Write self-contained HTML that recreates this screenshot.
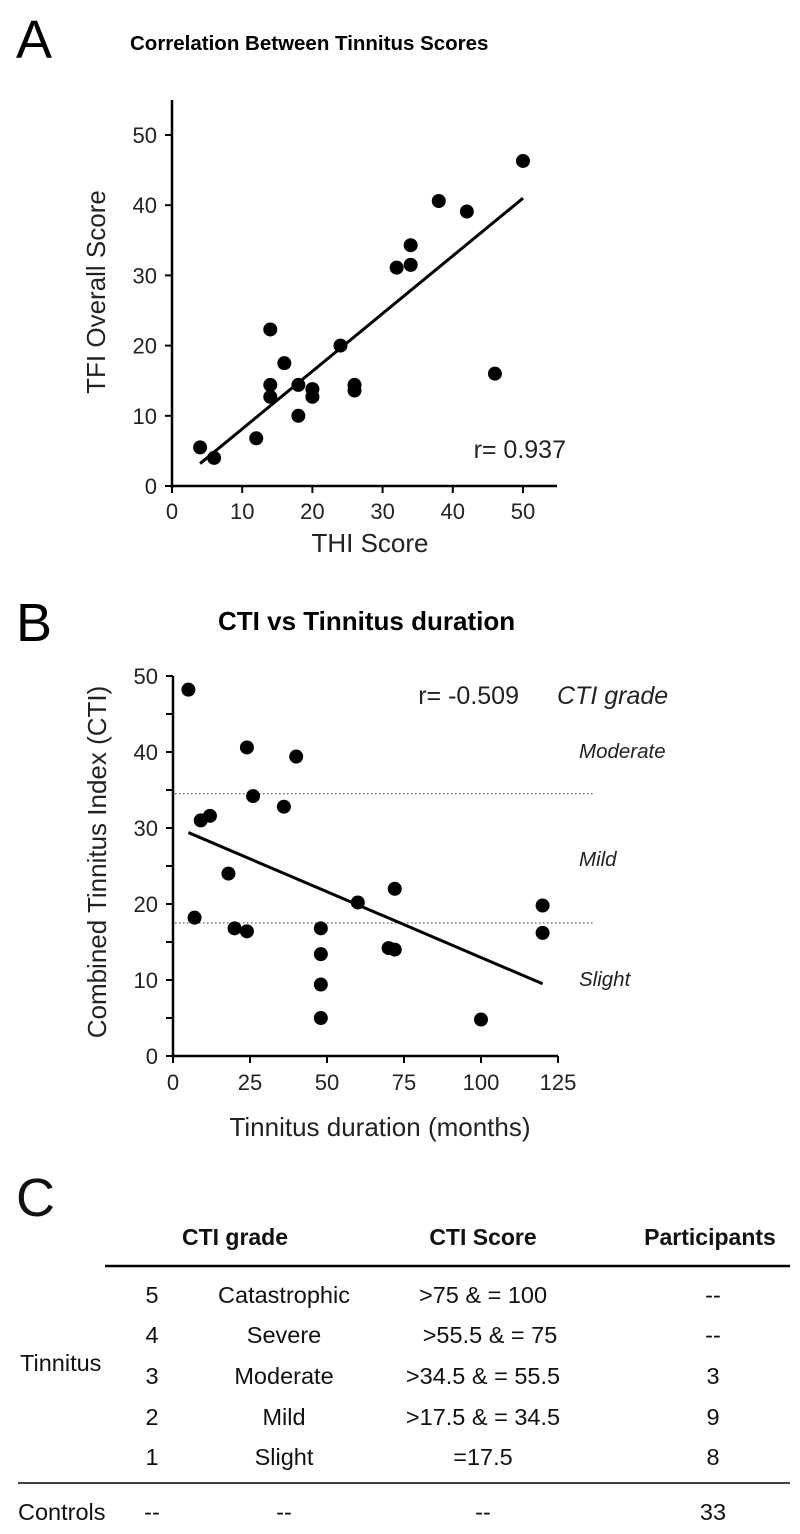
<!DOCTYPE html>
<html><head><meta charset="utf-8"><style>
html,body{margin:0;padding:0;background:#fff;}
svg{display:block;font-family:"Liberation Sans",Arial,sans-serif;}
</style></head><body>
<svg id="fig" width="800" height="1534" viewBox="0 0 800 1534">
<g id="pa">
<text x="16" y="58" font-size="54">A</text>
<text x="130" y="50" font-size="20.5" font-weight="bold">Correlation Between Tinnitus Scores</text>
<text transform="translate(105,292) rotate(-90)" text-anchor="middle" font-size="26" fill="#222">TFI Overall Score</text>
<text x="370" y="552" text-anchor="middle" font-size="26" fill="#222">THI Score</text>
<text x="566" y="458" text-anchor="end" font-size="25" fill="#222">r= 0.937</text>
</g>
<g id="pb">
<text x="16" y="641" font-size="54">B</text>
<text x="218" y="630" font-size="26" font-weight="bold">CTI vs Tinnitus duration</text>
<text transform="translate(106,862) rotate(-90)" text-anchor="middle" font-size="26" fill="#222">Combined Tinnitus Index (CTI)</text>
<text x="380" y="1136" text-anchor="middle" font-size="26" fill="#222">Tinnitus duration (months)</text>
<text x="519" y="704" text-anchor="end" font-size="25" fill="#222">r= -0.509</text>
<text x="557" y="704" font-size="25" font-style="italic" fill="#222">CTI grade</text>
<text x="579" y="758" font-size="20.5" font-style="italic" fill="#222">Moderate</text>
<text x="579" y="866" font-size="20.5" font-style="italic" fill="#222">Mild</text>
<text x="579" y="986" font-size="20.5" font-style="italic" fill="#222">Slight</text>
</g>
<g id="pc" font-size="23.5" fill="#111">
<text x="16" y="1216" font-size="54">C</text>
<text x="235" y="1245" text-anchor="middle" font-weight="bold" font-size="23">CTI grade</text>
<text x="483" y="1245" text-anchor="middle" font-weight="bold" font-size="23">CTI Score</text>
<text x="710" y="1245" text-anchor="middle" font-weight="bold" font-size="23">Participants</text>
<line x1="105" y1="1266" x2="790" y2="1266" stroke="#000" stroke-width="2.5"/>
<text x="20" y="1371">Tinnitus</text>
<g text-anchor="middle">
<text x="152" y="1303">5</text><text x="284" y="1303">Catastrophic</text><text x="483" y="1303">&gt;75 &amp; = 100</text><text x="713" y="1303">--</text>
<text x="152" y="1343">4</text><text x="284" y="1343">Severe</text><text x="490" y="1343">&gt;55.5 &amp; = 75</text><text x="713" y="1343">--</text>
<text x="152" y="1384">3</text><text x="284" y="1384">Moderate</text><text x="483" y="1384">&gt;34.5 &amp; = 55.5</text><text x="713" y="1384">3</text>
<text x="152" y="1425">2</text><text x="284" y="1425">Mild</text><text x="483" y="1425">&gt;17.5 &amp; = 34.5</text><text x="713" y="1425">9</text>
<text x="152" y="1465">1</text><text x="284" y="1465">Slight</text><text x="483" y="1465">=17.5</text><text x="713" y="1465">8</text>
</g>
<line x1="18" y1="1483" x2="790" y2="1483" stroke="#000" stroke-width="1.5"/>
<text x="18" y="1520">Controls</text>
<g text-anchor="middle"><text x="152" y="1520">--</text><text x="284" y="1520">--</text><text x="483" y="1520">--</text><text x="713" y="1520">33</text></g>
</g>
</svg>
<script>
// Panel A data
const thiX=[4,6,12,14,14,14,16,18,18,20,20,24,26,26,32,34,34,38,42,46,50];
const tfiY=[5.5,4,6.8,22.3,14.4,12.7,17.5,14.4,10,13.8,12.7,20,14.4,13.6,31.1,34.3,31.5,40.6,39.1,16,46.3];
const fitA=[[4,3.2],[50,41]];
const ticksA=[0,10,20,30,40,50];
// Panel B data
const durX=[5,7,9,12,18,20,24,24,26,36,40,48,48,48,48,60,70,72,72,100,120,120];
const ctiY=[48.2,18.2,31,31.6,24,16.8,40.6,16.4,34.2,32.8,39.4,16.8,13.4,9.4,5,20.2,14.2,14,22,4.8,19.8,16.2];
const fitB=[[5,29.4],[120,9.5]];
const ticksBX=[0,25,50,75,100,125];
const ticksBY=[0,10,20,30,40,50];
const gradeCuts=[17.5,34.5];

const NS='http://www.w3.org/2000/svg';
function mk(parent,tag,attrs){const e=document.createElementNS(NS,tag);for(const k in attrs)e.setAttribute(k,attrs[k]);parent.appendChild(e);return e;}

const axA={x:v=>172+v*7.02,y:v=>486-v*7.02};
const axB={x:v=>173+v*3.08,y:v=>1056-v*7.6};

const pa=document.getElementById('pa');
let e;
e=mk(pa,'line',{x1:172,y1:100,x2:172,y2:488,stroke:'#000','stroke-width':2.5});


e=mk(pa,'line',{x1:171,y1:486,x2:557,y2:486,stroke:'#000','stroke-width':2.5});


ticksA.forEach(t=>{
  mk(pa,'line',{x1:165,y1:axA.y(t),x2:172,y2:axA.y(t),stroke:'#000','stroke-width':2});
  e=mk(pa,'text',{x:157,y:axA.y(t)+8,'text-anchor':'end','font-size':22,fill:'#222'});e.textContent=t;
  
  
  mk(pa,'line',{x1:axA.x(t),y1:486,x2:axA.x(t),y2:493,stroke:'#000','stroke-width':2});
  e=mk(pa,'text',{x:axA.x(t),y:519,'text-anchor':'middle','font-size':22,fill:'#222'});e.textContent=t;
  
  
});
e=mk(pa,'line',{x1:axA.x(fitA[0][0]),y1:axA.y(fitA[0][1]),x2:axA.x(fitA[1][0]),y2:axA.y(fitA[1][1]),stroke:'#000','stroke-width':3});


thiX.forEach((x,i)=>{
  e=mk(pa,'circle',{cx:axA.x(x),cy:axA.y(tfiY[i]),r:7,fill:'#000'});
  
  
});

const pb=document.getElementById('pb');
e=mk(pb,'line',{x1:173,y1:676,x2:173,y2:1058,stroke:'#000','stroke-width':2.5});


e=mk(pb,'line',{x1:172,y1:1056,x2:558,y2:1056,stroke:'#000','stroke-width':2.5});


for(let t=0;t<=50;t+=5){mk(pb,'line',{x1:166,y1:axB.y(t),x2:173,y2:axB.y(t),stroke:'#000','stroke-width':2});}
ticksBY.forEach(t=>{
  e=mk(pb,'text',{x:158,y:axB.y(t)+8,'text-anchor':'end','font-size':22,fill:'#222'});e.textContent=t;
  
  
});
ticksBX.forEach(t=>{
  mk(pb,'line',{x1:axB.x(t),y1:1056,x2:axB.x(t),y2:1063,stroke:'#000','stroke-width':2});
  e=mk(pb,'text',{x:axB.x(t),y:1090,'text-anchor':'middle','font-size':22,fill:'#222'});e.textContent=t;
  
  
});
gradeCuts.forEach(c=>{
  e=mk(pb,'line',{x1:175,y1:axB.y(c),x2:593,y2:axB.y(c),stroke:'#333','stroke-width':1,'stroke-dasharray':'1.5,2.5'});
  
  
});
e=mk(pb,'line',{x1:axB.x(fitB[0][0]),y1:axB.y(fitB[0][1]),x2:axB.x(fitB[1][0]),y2:axB.y(fitB[1][1]),stroke:'#000','stroke-width':3});


durX.forEach((x,i)=>{
  e=mk(pb,'circle',{cx:axB.x(x),cy:axB.y(ctiY[i]),r:7,fill:'#000'});
  
  
});
</script>
</body></html>
